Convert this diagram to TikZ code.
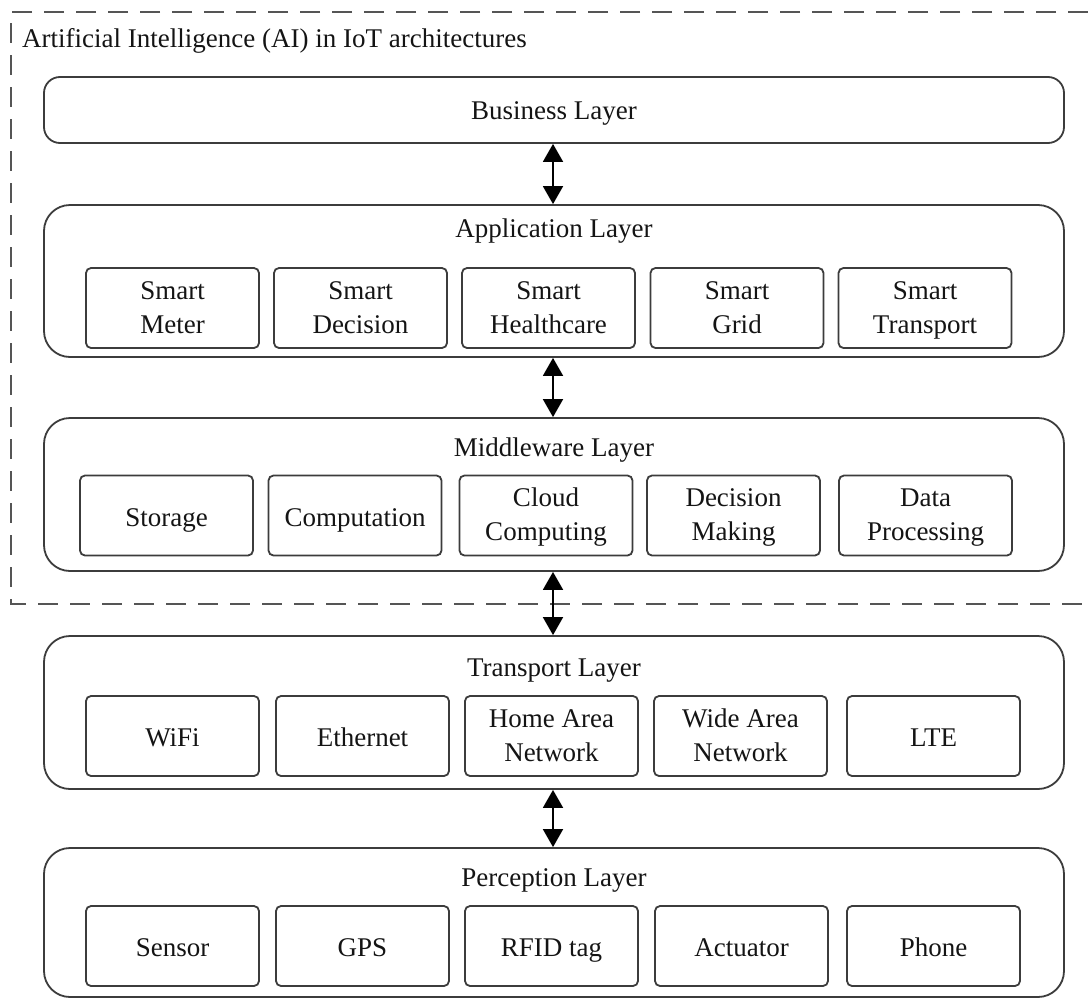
\documentclass[tikz,border=0pt]{standalone}
\usepackage{fontspec}
\setmainfont{Liberation Serif}
\usetikzlibrary{arrows.meta}
\definecolor{linegray}{RGB}{60,60,60}
\definecolor{dashgray}{RGB}{85,85,85}
\definecolor{textcol}{RGB}{20,20,20}
\newcommand{\topstrut}{\rule[-10.2pt]{0pt}{42pt}}
\newcommand{\pairstrut}{\rule[-10.2pt]{0pt}{37pt}}
\newcommand{\twolines}[2]{#1\pairstrut\\#2\strut}
\begin{document}
\begin{tikzpicture}[x=1pt,y=-1pt,
  layer/.style={draw=linegray, line width=1.8pt, rounded corners=26pt, minimum width=1020pt, inner sep=0pt},
  bizlayer/.style={layer, rounded corners=16pt},
  item/.style={draw=linegray, line width=1.8pt, rounded corners=5pt, minimum width=173pt, minimum height=80pt,
    align=center, inner sep=0pt, text=textcol, font=\fontsize{27}{34}\selectfont, execute at begin node=\topstrut},
  ttl/.style={text=textcol, font=\fontsize{27}{34}\selectfont, inner sep=0pt, execute at begin node=\strut},
  link/.style={line width=1.8pt, draw=black, {Triangle[length=18pt,width=20pt]}-{Triangle[length=18pt,width=20pt]}},
  aiframe/.style={draw=dashgray, line width=2pt, dash pattern=on 20pt off 12pt}
]
\useasboundingbox (0,0) rectangle (1088,999);

% AI frame (open to the right)
\draw[aiframe] (1088,12) -- (11,12) -- (11,604) -- (1088,604);
\node[ttl, anchor=west] (aititle) at (22,41) {Artificial Intelligence (AI) in IoT architectures};

% layers
\node[bizlayer, minimum height=66pt] (biz) at (554,110) {};
\node[ttl] (biztitle) at (554,113) {Business Layer};

\node[layer, minimum height=152pt] (app) at (554,281) {};
\node[ttl] (apptitle) at (554,231) {Application Layer};

\node[layer, minimum height=153pt] (mid) at (554,494.5) {};
\node[ttl] (midtitle) at (554,450) {Middleware Layer};

\node[layer, minimum height=153pt] (trn) at (554,712.5) {};
\node[ttl] (trntitle) at (554,670) {Transport Layer};

\node[layer, minimum height=149pt] (per) at (554,922.5) {};
\node[ttl] (pertitle) at (554,880) {Perception Layer};

% application items
\node[item] (a1) at (172.5,308) {\twolines{Smart}{Meter}};
\node[item] (a2) at (360.5,308) {\twolines{Smart}{Decision}};
\node[item] (a3) at (548.5,308) {\twolines{Smart}{Healthcare}};
\node[item] (a4) at (737,308) {\twolines{Smart}{Grid}};
\node[item] (a5) at (925,308) {\twolines{Smart}{Transport}};

% middleware items
\node[item] (m1) at (166.5,515.5) {Storage};
\node[item] (m2) at (355,515.5) {Computation};
\node[item] (m3) at (546,515.5) {\twolines{Cloud}{Computing}};
\node[item] (m4) at (733.5,515.5) {\twolines{Decision}{Making}};
\node[item] (m5) at (925.5,515.5) {\twolines{Data}{Processing}};

% transport items
\node[item] (t1) at (172.5,736) {WiFi};
\node[item] (t2) at (362.5,736) {Ethernet};
\node[item] (t3) at (551.5,736) {\twolines{Home Area}{Network}};
\node[item] (t4) at (740.5,736) {\twolines{Wide Area}{Network}};
\node[item] (t5) at (933.5,736) {LTE};

% perception items
\node[item] (p1) at (172.5,946) {Sensor};
\node[item] (p2) at (362.5,946) {GPS};
\node[item] (p3) at (551.5,946) {RFID tag};
\node[item] (p4) at (741.5,946) {Actuator};
\node[item] (p5) at (933.5,946) {Phone};

% connectors
\draw[link] ([xshift=-1pt]biz.south) -- ([xshift=-1pt]app.north);
\draw[link] ([xshift=-1pt]app.south) -- ([xshift=-1pt]mid.north);
\draw[link] ([xshift=-1pt]mid.south) -- ([xshift=-1pt]trn.north);
\draw[link] ([xshift=-1pt]trn.south) -- ([xshift=-1pt]per.north);
\end{tikzpicture}
\end{document}
